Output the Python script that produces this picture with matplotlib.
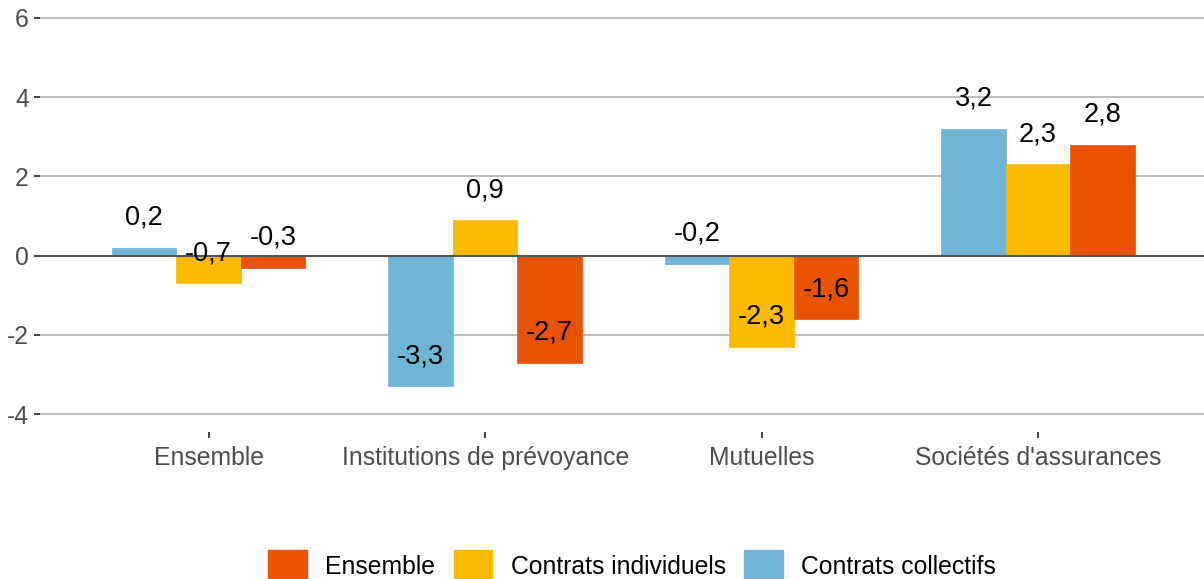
import numpy as np
import matplotlib.pyplot as plt
from matplotlib.patches import Patch

plt.rcParams['font.family'] = ['Liberation Sans', 'DejaVu Sans']
plt.rcParams['axes.unicode_minus'] = False

categories = ['Ensemble', 'Institutions de prévoyance', 'Mutuelles', "Sociétés d'assurances"]
collectifs = [0.2, -3.3, -0.2, 3.2]
individuels = [-0.7, 0.9, -2.3, 2.3]
ensemble = [-0.3, -2.7, -1.6, 2.8]

series = [('Contrats collectifs', collectifs, '#70B4D6'),
          ('Contrats individuels', individuels, '#F9BA00'),
          ('Ensemble', ensemble, '#E85202')]

fig = plt.figure(figsize=(12.04, 5.79), dpi=100)
ax = fig.add_axes([40 / 1204, 147 / 579, 1 - 40 / 1204, 1 - 147 / 579 - 0.002])

x = np.arange(1, len(categories) + 1)
w = 0.7 / 3
for i, (name, vals, col) in enumerate(series):
    pos = x + (i - 1) * w
    ax.bar(pos, vals, width=w, color=col, edgecolor=col, lw=0.5, zorder=2)
    for px, v in zip(pos, vals):
        ax.annotate(f'{v:.1f}'.replace('.', ','), (px, v), xytext=(0, 21.5),
                    textcoords='offset points', ha='center', va='center',
                    fontsize=19.5, color='black', zorder=4)

ax.axhline(0, color='#555555', lw=1.5, zorder=3)
ax.set_xlim(0.39, 4.6)
ax.set_ylim(-4.45, 6.42)
ax.set_yticks([-4, -2, 0, 2, 4, 6])
ax.set_xticks(x)
ax.set_xticklabels(categories)
ax.grid(axis='y', color='#BEBEBE', lw=1.4, zorder=0)
ax.set_axisbelow(True)
for s in ax.spines.values():
    s.set_visible(False)
ax.tick_params(axis='both', labelsize=17.8, labelcolor='#4D4D4D', color='#333333',
               length=4, width=1.3, pad=4)
ax.tick_params(axis='x', pad=6)

handles = [Patch(color=c, label=n) for n, v, c in series[::-1]]
fig.legend(handles=handles, loc='center', bbox_to_anchor=(0.525, 0.022), ncol=3,
           frameon=False, fontsize=17.8, handlelength=1.55, handleheight=1.6,
           handletextpad=0.75, columnspacing=0.75)

fig.savefig('out.png', dpi=100)
